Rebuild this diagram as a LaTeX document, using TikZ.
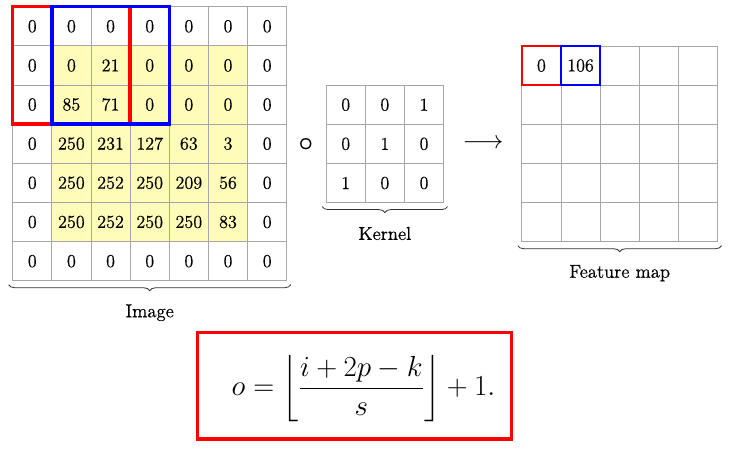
\RequirePackage{fix-cm}
\documentclass[tikz,border=0pt]{standalone}
\usepackage{amsmath}
\usepackage{fontspec}
\newfontfamily\heavyfont{Latin Modern Roman}[FakeBold=0.6]
\usetikzlibrary{calc,backgrounds,decorations.pathreplacing}
\definecolor{cellyellow}{RGB}{255,252,185}
\begin{document}
\begin{tikzpicture}[x=0.75pt,y=-0.75pt,
  cell/.style={draw=black!35, line width=0.5pt, minimum size=29.36pt, inner sep=0pt, outer sep=0pt, font=\heavyfont\fontsize{13.6}{16}\selectfont},
  bigwin/.style={line width=2.6pt},
  smallwin/.style={line width=1.6pt},
  brc/.style={decorate, decoration={brace, mirror, amplitude=4.5pt}, line width=0.6pt, draw=black!80},
  lbl/.style={font=\heavyfont\fontsize{14}{16}\selectfont, anchor=base, inner sep=0pt},
  sym/.style={font=\fontsize{19}{21}\selectfont, inner sep=0pt}
]
\useasboundingbox (0,0) rectangle (746,453);
% image
\foreach \rowvals [count=\r from 0] in {{0,0,0,0,0,0,0},{0,0,21,0,0,0,0},{0,85,71,0,0,0,0},{0,250,231,127,63,3,0},{0,250,252,250,209,56,0},{0,250,252,250,250,83,0},{0,0,0,0,0,0,0}} {
  \foreach \v [count=\c from 0] in \rowvals {
    \node[cell] (img-\r-\c) at ({149.7+39.15*(\c-3)},{143.7+39.15*(\r-3)}) {\v};
  }
}
\begin{scope}[on background layer]
  \fill[cellyellow] (img-1-1.north west) rectangle (img-5-5.south east);
\end{scope}
\draw[red, bigwin] (img-0-0.north west) rectangle (img-2-2.south east);
\draw[blue, bigwin] (img-0-1.north west) rectangle (img-2-3.south east);
\draw[brc] ($(img-6-0.south west)+(-4,4)$) -- ($(img-6-6.south east)+(4,4)$);
\node[lbl] (imglbl) at ($(img-6-3.south)+(0,36.5)$) {Image};
% operator
\node[sym] (op) at (306,144.3) {$\boldsymbol{\circ}$};
% kernel
\foreach \rowvals [count=\r from 0] in {{0,0,1},{0,1,0},{1,0,0}} {
  \foreach \v [count=\c from 0] in \rowvals {
    \node[cell] (ker-\r-\c) at ({384.85+39.15*(\c-1)},{143.85+39.15*(\r-1)}) {\v};
  }
}
\draw[brc] ($(ker-2-0.south west)+(-4,4)$) -- ($(ker-2-2.south east)+(4,4)$);
\node[lbl] (kerlbl) at ($(ker-2-1.south)+(0,37.3)$) {Kernel};
% arrow
\node[sym] (arr) at (483,144) {$\longrightarrow$};
% feature map
\foreach \rowvals [count=\r from 0] in {{0,106,{},{},{}},{{},{},{},{},{}},{{},{},{},{},{}},{{},{},{},{},{}},{{},{},{},{},{}}} {
  \foreach \v [count=\c from 0] in \rowvals {
    \node[cell] (fm-\r-\c) at ({619.7+39.15*(\c-2)},{143.85+39.15*(\r-2)}) {\v};
  }
}
\draw[red, smallwin] (fm-0-0.north west) rectangle (fm-0-0.south east);
\draw[blue, smallwin] (fm-0-1.north west) rectangle (fm-0-1.south east);
\draw[brc] ($(fm-4-0.south west)+(-4,4)$) -- ($(fm-4-4.south east)+(4,4)$);
\node[lbl] (fmlbl) at ($(fm-4-2.south)+(0,36)$) {Feature map};
% formula
\node[draw=red, line width=2.6pt, minimum width=235.6pt, minimum height=79.8pt, inner sep=0pt] (fbox) at (354.65,385.85) {};
\node[font=\fontsize{21.8}{26}\selectfont, inner sep=0pt, anchor=base west] (formula) at ($(fbox.west)+(35.5,10)$) {$\displaystyle o = \biggl\lfloor \frac{i+2p-k}{s} \biggr\rfloor + 1.$};
\end{tikzpicture}
\end{document}
